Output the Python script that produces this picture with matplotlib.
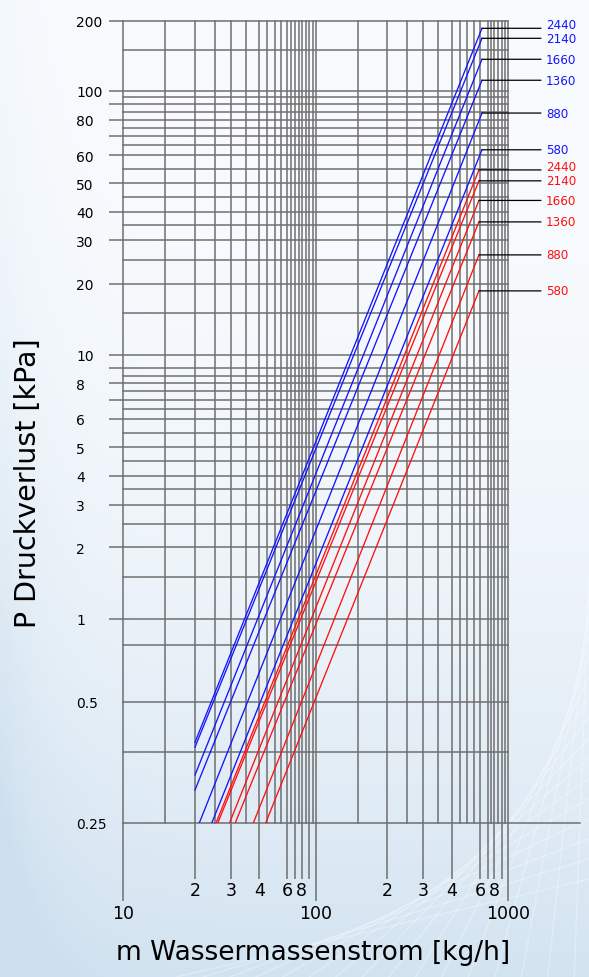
import numpy as np
import matplotlib
matplotlib.use("Agg")
import matplotlib.pyplot as plt

# ---- data -----------------------------------------------------------------
CURVE_LABELS = [2440, 2140, 1660, 1360, 880, 580]

# blue family
BLUE_M_START = [20, 20, 20, 20, 21.0, 24.2]
BLUE_P_START = [0.397, 0.386, 0.329, 0.302, 0.25, 0.25]
BLUE_M_END = [625, 625, 625, 625, 625, 625]
BLUE_P_END = [185.5, 168.0, 136.5, 110.9, 84.2, 62.6]

# red family
RED_M_START = [25.4, 25.9, 29.6, 31.4, 37.7, 43.9]
RED_P_START = [0.25, 0.25, 0.25, 0.25, 0.25, 0.25]
RED_M_END = [591, 591, 591, 591, 591, 591]
RED_P_END = [54.5, 50.8, 43.7, 36.1, 26.2, 18.7]

# grid of the printed chart
X_LONG = [20, 30, 40, 60, 70, 80, 90, 200, 300, 400, 600, 700, 800, 900]
X_LONG_LABELS = ["2", "3", "4", "6", "", "8", "", "2", "3", "4", "6", "", "8", ""]
X_DECADES = [10, 100, 1000]
X_SHORT = [15, 25, 35, 45, 50, 55, 65, 75, 85, 95,
           150, 250, 350, 450, 500, 550, 750, 850, 950]

Y_MAJOR = [1, 2, 3, 4, 5, 6, 7, 8, 9, 10, 20, 30, 40, 50, 60, 70, 80, 90, 100, 200]
Y_MAJOR_LABELS = ["1", "2", "3", "4", "5", "6", "", "8", "", "10",
                  "20", "30", "40", "50", "60", "", "80", "", "100", "200"]
Y_LOW = [0.25, 0.5]
Y_LOW_LABELS = ["0.25", "0.5"]
Y_SHORT = [0.375, 0.8, 1.5, 2.5, 3.5, 4.5, 5.5, 6.5, 7.5, 8.5,
           15, 25, 35, 45, 55, 65, 75, 85, 95, 150]

# the printed scales are only roughly logarithmic: calibrate them on the labels
X_KNOTS = [10, 20, 30, 40, 60, 80, 100, 200, 300, 400, 600, 800, 1000]
X_KNOT_POS = [0, 71.7, 107.4, 135.9, 164.2, 178.5, 192.7, 264, 299.4, 328.4, 356.7, 370.7, 385]
Y_KNOTS = [0.25, 0.5, 1, 2, 3, 4, 5, 6, 8, 10, 20, 30, 40, 50, 60, 80, 100, 200]
Y_KNOT_POS = [0, 121, 204.5, 276, 318.3, 347, 375.7, 404, 439.7, 468,
              539, 582.7, 611.3, 639.7, 668, 703.3, 732.3, 802.3]

BLUE = "#1414ff"
RED = "#ff1010"
GRID = "#6f6f6f"
GRID_LW = 1.1
LABEL_NUDGE = {2440: 2.6}   # points, lifts the crowded top labels


def knot_scale(values, pos):
    lv = np.log10(values)
    pos = np.asarray(pos, float)

    def fwd(v):
        v = np.clip(np.asarray(v, float), 1e-6, None)
        return np.interp(np.log10(v), lv, pos)

    def inv(p):
        return 10 ** np.interp(np.asarray(p, float), pos, lv)

    return fwd, inv


fig = plt.figure(figsize=(5.89, 9.78), dpi=100)

# pale blue backdrop of the brochure
bg = fig.add_axes([0, 0, 1, 1], zorder=-5)
yy, xx = np.mgrid[0:1:200j, 0:1:120j]
blue_amt = np.clip(0.85 * yy ** 2.2 + 0.35 * np.exp(-xx / 0.08) * (0.3 + yy), 0, 1)
top = np.array([0.975, 0.985, 0.995])
bot = np.array([0.80, 0.875, 0.935])
img = top + (bot - top) * blue_amt[..., None]
bg.imshow(img, aspect="auto", extent=[0, 1, 0, 1], origin="upper")
for k in range(16):
    bg.plot([0.30 + 0.045 * k, 1.0], [0.0, 0.10 + 0.022 * k - 0.03 * k * (0.045)],
            color="white", lw=1.0, alpha=0.3)
bg.set_xlim(0, 1)
bg.set_ylim(0, 1)
bg.axis("off")

ax = fig.add_axes([123.3 / 589, 1 - 824 / 978, 385 / 589, 802.3 / 978])
ax.patch.set_alpha(0)
ax.set_xscale("function", functions=knot_scale(X_KNOTS, X_KNOT_POS))
ax.set_yscale("function", functions=knot_scale(Y_KNOTS, Y_KNOT_POS))
ax.set_xlim(10, 1000)
ax.set_ylim(0.25, 200)
for s in ax.spines.values():
    s.set_visible(False)

# grid
for v in X_DECADES + X_LONG + X_SHORT:
    ax.axvline(v, color=GRID, lw=GRID_LW, zorder=1, clip_on=False)
for v in Y_MAJOR + Y_LOW + Y_SHORT:
    if v == 0.25:
        continue
    ax.axhline(v, color=GRID, lw=GRID_LW, zorder=1, clip_on=False)
ax.axhline(0.25, xmin=0, xmax=(580 - 123.3) / 385, color=GRID, lw=GRID_LW,
           zorder=1, clip_on=False)

# ticks / labels
ax.set_xticks(X_DECADES, labels=[str(v) for v in X_DECADES])
ax.set_xticks(X_LONG, labels=X_LONG_LABELS, minor=True)
ax.tick_params(axis="x", which="major", length=56, width=GRID_LW, color=GRID,
               pad=2, labelsize=12.5)
ax.tick_params(axis="x", which="minor", length=40.3, width=GRID_LW, color=GRID,
               pad=1.5, labelsize=12.5)

ax.set_yticks(Y_MAJOR, labels=Y_MAJOR_LABELS)
ax.set_yticks(Y_LOW, labels=Y_LOW_LABELS, minor=True)
ax.tick_params(axis="y", which="major", length=10.3, width=GRID_LW, color=GRID,
               pad=23.8, labelsize=10)
ax.tick_params(axis="y", which="minor", length=0, pad=34, labelsize=10)
for t in ax.get_yticklabels() + ax.get_yticklabels(minor=True):
    t.set_ha("left")

# curves with leader lines and labels
lead_x = (541 - 123.3) / 385
label_x = (546 - 123.3) / 385
for fam, color in ((zip(BLUE_M_START, BLUE_P_START, BLUE_M_END, BLUE_P_END), BLUE),
                   (zip(RED_M_START, RED_P_START, RED_M_END, RED_P_END), RED)):
    for lbl, (m0, p0, m1, p1) in zip(CURVE_LABELS, fam):
        ax.plot([m0, m1], [p0, p1], color=color, lw=0.95, zorder=3)
        ax.annotate("", xy=(m1, p1), xycoords="data",
                    xytext=(lead_x, p1), textcoords=("axes fraction", "data"),
                    annotation_clip=False,
                    arrowprops=dict(arrowstyle="-", color="black", lw=0.9,
                                    shrinkA=0, shrinkB=0))
        ax.annotate(str(lbl), xy=(label_x, p1), xycoords=("axes fraction", "data"),
                    xytext=(0, LABEL_NUDGE.get(lbl, 0)), textcoords="offset points",
                    ha="left", va="center", color=color, fontsize=8.6,
                    annotation_clip=False)

ax.set_xlabel("m Wassermassenstrom [kg/h]", fontsize=19, va="center")
ax.xaxis.set_label_coords((313 - 123.3) / 385, (824 - 953) / 802.3)
ax.set_ylabel("P Druckverlust [kPa]", fontsize=20.5, va="center")
ax.yaxis.set_label_coords((28 - 123.3) / 385, (824 - 483) / 802.3)

fig.savefig("out.png", dpi=100)
